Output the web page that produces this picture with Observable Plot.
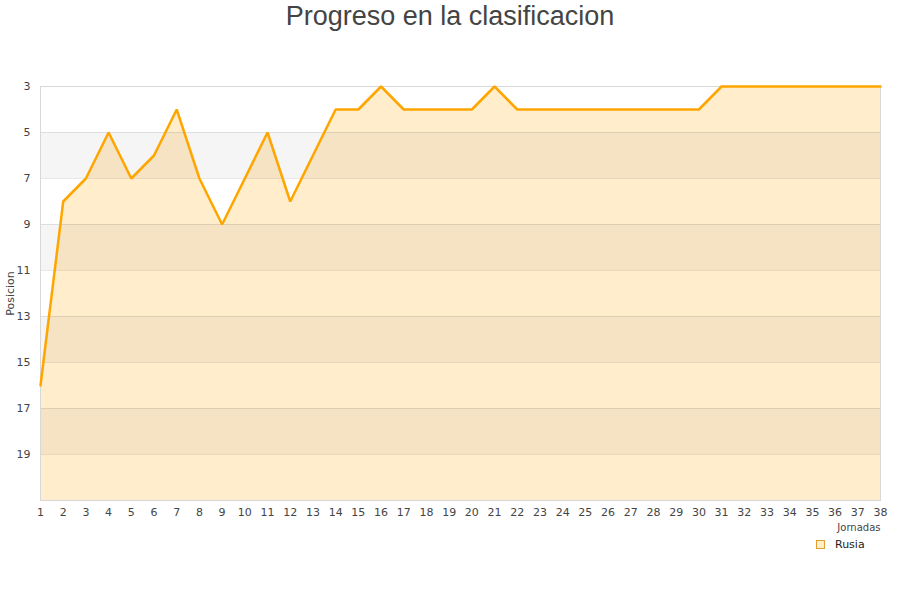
<!DOCTYPE html>
<html><head><meta charset="utf-8">
<script src="https://cdn.jsdelivr.net/npm/d3@7"></script>
<script src="https://cdn.jsdelivr.net/npm/@observablehq/plot@0.6"></script>
<style>
body{margin:0;background:#fff;font-family:"Liberation Sans",Arial,sans-serif;}
#wrap{position:relative;width:900px;height:600px;}
#title{position:absolute;left:0;top:0;width:900px;text-align:center;font-size:27px;color:#444;line-height:32px;}
#chart{position:absolute;left:0;top:40px;}
#legend{position:absolute;left:816px;top:538px;font-family:"DejaVu Sans",sans-serif;font-size:11px;color:#222;display:flex;align-items:center;line-height:13px;}
#legend span.sw{display:inline-block;width:7px;height:7px;border:1px solid #e0a030;background:#ffedcc;margin-right:10px;}
</style></head>
<body><div id="wrap"><div id="title">Progreso en la clasificacion</div><div id="chart"></div>
<div id="legend"><span class="sw"></span>Rusia</div></div>
<script>
const jornadas = d3.range(1, 39);
const posiciones = [16,8,7,5,7,6,4,7,9,7,5,8,6,4,4,3,4,4,4,4,3,4,4,4,4,4,4,4,4,4,3,3,3,3,3,3,3,3];
const yTicks = [3,5,7,9,11,13,15,17,19];
const bandStarts = [5,9,13,17];
const equipo = "Rusia";
const xLabel = "Jornadas";

const data = jornadas.map((j,i)=>({j, p: posiciones[i]}));
const bands = bandStarts.map(s=>({y1:s, y2:s+2}));

const chart = Plot.plot({
  width: 900, height: 520,
  marginLeft: 40, marginRight: 20, marginTop: 46, marginBottom: 60,
  style: {fontFamily: '"DejaVu Sans", sans-serif', fontSize: "11px", color: "#444"},
  x: {domain: [1, 38], ticks: jornadas, tickSize: 0, tickPadding: 8, label: null, tickFormat: d=>d},
  y: {domain: [21, 3], ticks: yTicks, tickSize: 0, tickPadding: 10, label: "Posicion", labelAnchor: "center", labelOffset: 34, labelArrow: "none"},
  marks: [
    Plot.areaY(data, {x: "j", y1: 21, y2: "p", fill: "#ffedcc"}),
    Plot.rectY(bands, {x1: 1, x2: 38, y1: "y1", y2: "y2", fill: "#000", fillOpacity: 0.04}),
    Plot.ruleY(yTicks, {stroke: "#000", strokeOpacity: 0.09, strokeWidth: 1}),
    Plot.frame({stroke: "#d8d8d8"}),
    Plot.lineY(data, {x: "j", y: "p", stroke: "#ffa500", strokeWidth: 2.5, strokeLinejoin: "miter"}),
    Plot.text([xLabel], {frameAnchor: "bottom-right", dy: 30, textAnchor: "end", fill: "#444", fontSize: 10})
  ]
});
document.getElementById("chart").appendChild(chart);
</script></body></html>
